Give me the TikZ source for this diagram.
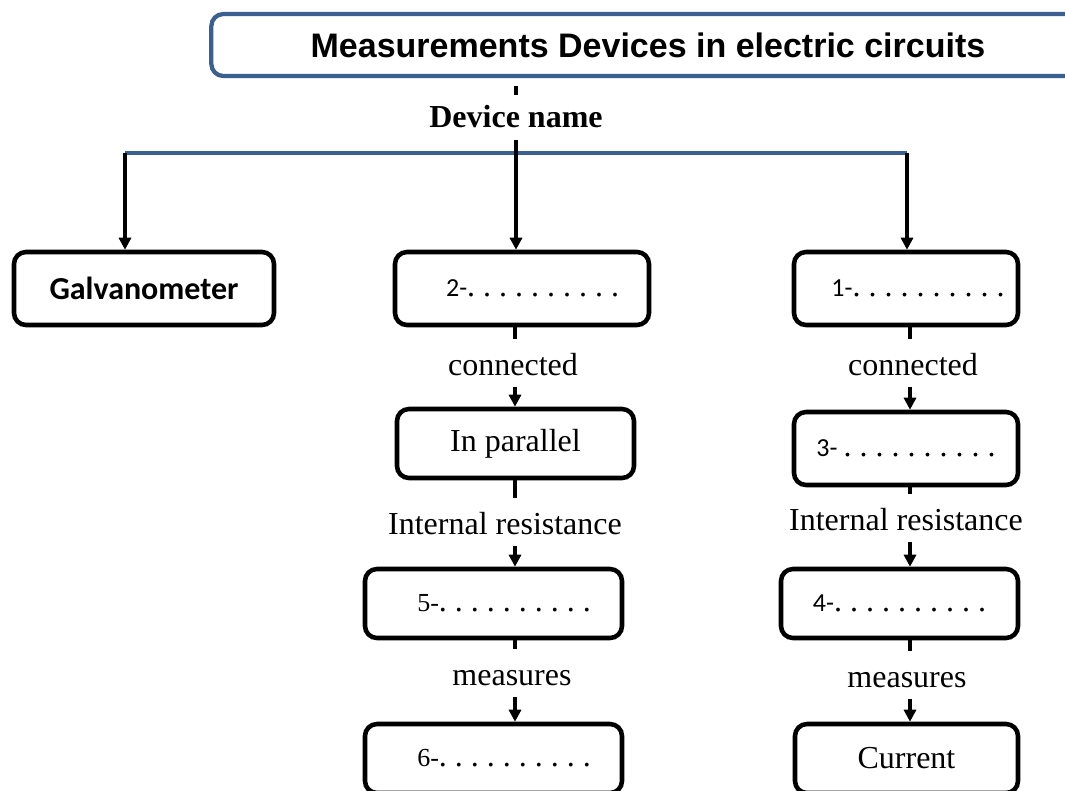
\documentclass[tikz,border=0pt]{standalone}
\usepackage{fontspec}
\setmainfont{Liberation Serif}
\newfontfamily\arialfont{Liberation Sans}
\newfontfamily\calfont{Carlito}
\usetikzlibrary{arrows.meta}

\definecolor{titleblue}{RGB}{59,95,142}

% blank answer lines: number in Carlito or Times, then the dots
\newcommand{\gapsans}[1]{{\calfont\fontsize{19.5}{22}\selectfont #1}{\frenchspacing. . . . . . . . . .}}
\newcommand{\gapserif}[1]{{\fontsize{19.5}{22}\selectfont #1}{\frenchspacing. . . . . . . . . .}}

\begin{document}
\begin{tikzpicture}[x=0.75pt, y=-0.75pt,
		box/.style={draw, line width=3.4pt, rounded corners=9pt, minimum height=54.75pt, inner sep=0pt, font=\fontsize{24}{28}\selectfont},
		lowbox/.style={box, minimum height=51.75pt},
		lbl/.style={inner sep=0pt, text height=16pt, text depth=0pt, font=\fontsize{24}{28}\selectfont},
		link/.style={line width=2.6pt},
		arr/.style={link, -{Triangle[width=9pt,length=9pt]}},
		stub/.style={link, shorten >=11pt}]
		\useasboundingbox (0,0) rectangle (1065,790);
		\clip (0,0) rectangle (1065,790);

		\node[draw=titleblue, line width=3.2pt, rounded corners=9pt, minimum width=655pt, minimum height=46.5pt, inner sep=0pt,
			font=\arialfont\bfseries\fontsize{25.5}{30}\selectfont] (ttl) at (648,45) {Measurements Devices in electric circuits};
		\node[lbl, font=\bfseries\fontsize{24}{28}\selectfont] (dname) at (516,117) {Device name};

		% first row
		\node[box, minimum width=195pt, font=\calfont\bfseries\fontsize{24}{28}\selectfont] (galv) at (144,288.5) {Galvanometer};
		\node[box, minimum width=190.5pt] (dev2) at (522,288.5) {\hspace{16pt}\gapsans{2-}};
		\node[box, minimum width=168pt] (dev1) at (906,288.5) {\hspace{18pt}\gapsans{1-}};

		% left column
		\node[lbl] (conL) at (513,365) {connected};
		\node[lowbox, minimum width=177.75pt] (par) at (515.5,443.5) {In parallel};
		\node[lbl] (resL) at (505,524) {Internal resistance};
		\node[lowbox, minimum width=192.75pt] (dev5) at (493.5,603.5) {\hspace{16pt}\gapserif{5-}};
		\node[lbl] (meaL) at (512,675) {measures};
		\node[lowbox, minimum width=192.75pt] (dev6) at (493.5,758.5) {\hspace{16pt}\gapserif{6-}};

		% right column
		\node[lbl] (conR) at (913,365) {connected};
		\node[box, minimum width=168pt] (dev3) at (906,448.5) {\gapsans{3- }};
		\node[lbl] (resR) at (906,520) {Internal resistance};
		\node[lowbox, minimum width=177.75pt] (dev4) at (899.5,603.5) {\gapsans{4-}};
		\node[lbl] (meaR) at (907,677) {measures};
		\node[lowbox, minimum width=167.25pt] (cur) at (906.5,758.5) {Current};

		% branching under the title
		\draw[link, shorten <=6pt, shorten >=8.5pt] (dname.north |- ttl.south) -- (dname.north);
		\coordinate (jl) at (125,153);
		\coordinate (jr) at (907,153);
		\draw[titleblue, line width=2.3pt] (jl) -- (jr);
		\draw[arr, shorten <=9pt] (dname.south) -- (dname.south |- dev2.north);
		\draw[arr] (jl) -- (jl |- galv.north);
		\draw[arr] (jr) -- (jr |- dev1.north);

		% broken links through the labels
		\coordinate (lcol) at (515,0);
		\coordinate (rcol) at (910,0);
		\foreach \a/\l/\b in {dev2/conL/par, par/resL/dev5, dev5/meaL/dev6} {
			\draw[stub] (lcol |- \a.south) -- (lcol |- \l.north);
			\draw[arr, shorten <=8pt] (lcol |- \l.south) -- (lcol |- \b.north);
		}
		\foreach \a/\l/\b in {dev1/conR/dev3, dev3/resR/dev4, dev4/meaR/cur} {
			\draw[stub] (rcol |- \a.south) -- (rcol |- \l.north);
			\draw[arr, shorten <=8pt] (rcol |- \l.south) -- (rcol |- \b.north);
		}
	\end{tikzpicture}
\end{document}
